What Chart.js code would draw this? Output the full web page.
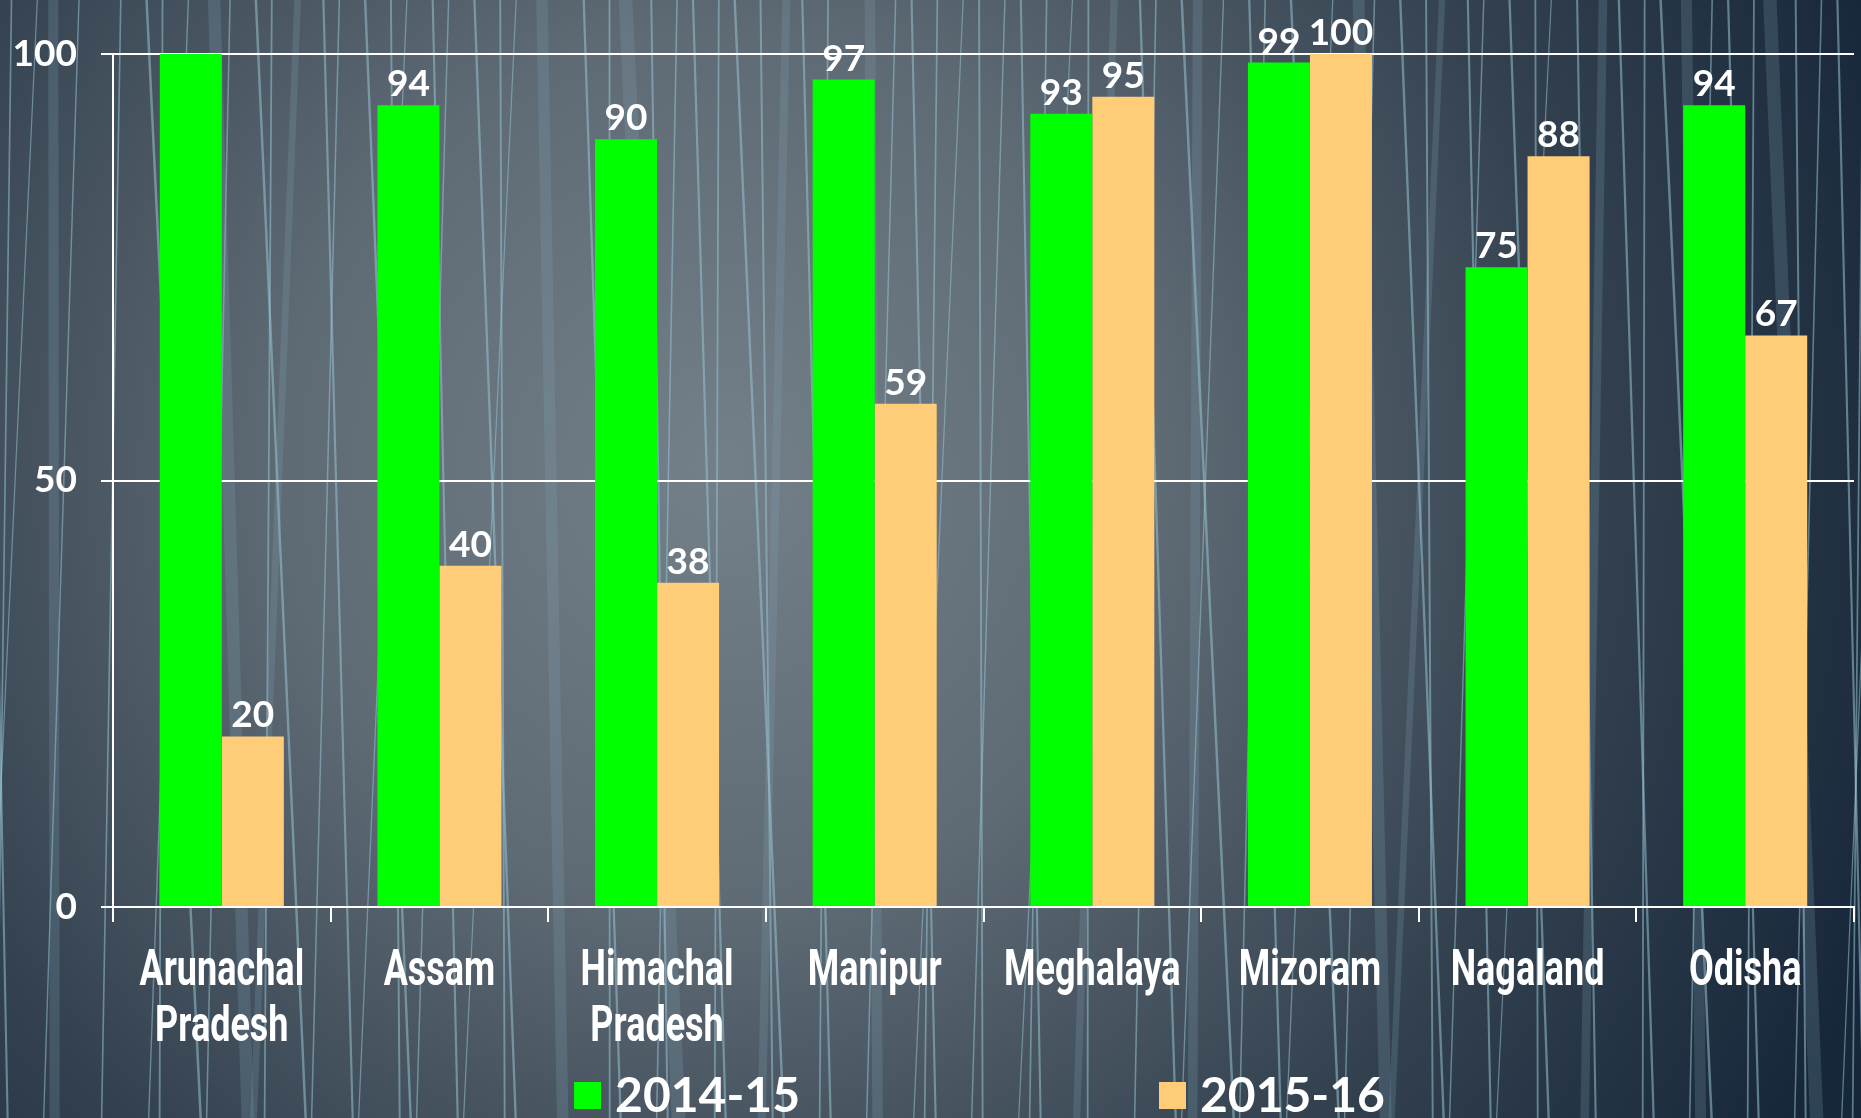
<!DOCTYPE html>
<html>
<head>
<meta charset="utf-8">
<script src="https://cdn.jsdelivr.net/npm/chart.js@4.4.1/dist/chart.umd.min.js"></script>
<style>
  html, body { margin: 0; padding: 0; background: #1c2b3a; }
  #wrap { width: 1861px; height: 1118px; position: relative; }
</style>
</head>
<body>
<div id="wrap"><canvas id="chart.area"></canvas></div>
<script>
const states = [['Arunachal', 'Pradesh'], 'Assam', ['Himachal', 'Pradesh'], 'Manipur', 'Meghalaya', 'Mizoram', 'Nagaland', 'Odisha'];
const values1415 = [100, 94, 90, 97, 93, 99, 75, 94];
const values1516 = [20, 40, 38, 59, 95, 100, 88, 67];
// the source shows no number over the first green bar
const showValue1415 = [false, true, true, true, true, true, true, true];
const showValue1516 = [true, true, true, true, true, true, true, true];
const seriesNames = ['2014-15', '2015-16'];
const seriesColors = ['#00ff00', '#ffcc77'];
const yTicks = [0, 50, 100];

const numFont = 'Lato, "Open Sans", sans-serif';
const labelFont = 'Roboto, "DejaVu Sans", sans-serif';

// background: grey-blue glow with light streaks
const backdrop = {
    id: 'backdrop',
    beforeDraw(chart) {
        const ctx = chart.ctx;
        const w = chart.width, h = chart.height;
        ctx.save();
        const g = ctx.createRadialGradient(720, 470, 0, 720, 470, 1250);
        g.addColorStop(0, '#737f89');
        g.addColorStop(0.35, '#5e6a74');
        g.addColorStop(0.7, '#33414f');
        g.addColorStop(1, '#17273a');
        ctx.fillStyle = g;
        ctx.fillRect(0, 0, w, h);

        let s = 0.31, t = 0.17;
        for (let i = 0; i < 85; i++) {
            s = (s + 0.6180339887) % 1;
            t = (t + 0.7548776662) % 1;
            const x0 = s * (w + 100) - 50;
            const x1 = x0 + (t - 0.5) * 110;
            const wide = i % 6 === 0;
            ctx.strokeStyle = wide ? 'rgba(130,170,185,0.22)' : 'rgba(150,195,210,0.55)';
            ctx.lineWidth = wide ? 6 + t * 8 : 1.2 + t * 1.3;
            ctx.beginPath();
            ctx.moveTo(x0, 0);
            ctx.lineTo(x1, h);
            ctx.stroke();
        }
        ctx.restore();
    }
};

// numbers above the bars
const barValues = {
    id: 'barValues',
    afterDatasetsDraw(chart) {
        const ctx = chart.ctx;
        ctx.save();
        ctx.fillStyle = '#ffffff';
        ctx.font = 'bold 37px ' + numFont;
        ctx.textAlign = 'center';
        ctx.textBaseline = 'alphabetic';
        chart.data.datasets.forEach((ds, i) => {
            chart.getDatasetMeta(i).data.forEach((bar, j) => {
                if (!ds.showValue[j]) return;
                ctx.fillText(String(ds.data[j]), bar.x, bar.y - 9);
            });
        });
        ctx.restore();
    }
};

// narrow category names (no condensed face installed, so squeeze a bold one)
const narrowLabels = {
    id: 'narrowLabels',
    afterDraw(chart) {
        const ctx = chart.ctx;
        const xs = chart.scales.x;
        ctx.save();
        ctx.fillStyle = '#ffffff';
        ctx.font = 'bold 50px ' + labelFont;
        ctx.textAlign = 'center';
        ctx.textBaseline = 'alphabetic';
        chart.data.labels.forEach((lab, i) => {
            const lines = Array.isArray(lab) ? lab : [lab];
            const x = xs.getPixelForTick(i);
            lines.forEach((line, k) => {
                ctx.save();
                ctx.translate(x, chart.chartArea.bottom + 78 + k * 56);
                ctx.scale(0.72, 1);
                ctx.fillText(line, 0, 0);
                ctx.restore();
            });
        });
        ctx.restore();
    }
};

// legend under the axis, centred on the plot area
const bottomLegend = {
    id: 'bottomLegend',
    afterDraw(chart) {
        const ctx = chart.ctx;
        const area = chart.chartArea;
        ctx.save();
        ctx.font = 'bold 48px ' + numFont;
        ctx.textBaseline = 'middle';
        const box = 27, gapText = 14, gapItem = 359;
        const items = chart.data.datasets.map(ds => ({
            label: ds.label, color: ds.backgroundColor,
            w: box + gapText + ctx.measureText(ds.label).width
        }));
        const total = items.reduce((a, it) => a + it.w, 0) + gapItem * (items.length - 1);
        let x = (area.left + area.right) / 2 - total / 2 - 4;
        const cy = 1095;
        items.forEach(it => {
            ctx.fillStyle = it.color;
            ctx.fillRect(x, cy - 13, box, 27);
            ctx.fillStyle = '#ffffff';
            ctx.fillText(it.label, x + box + gapText, cy + 2);
            x += it.w + gapItem;
        });
        ctx.restore();
    }
};

const config = {
    type: 'bar',
    data: {
        labels: states,
        datasets: [
            { label: seriesNames[0], data: values1415, backgroundColor: seriesColors[0], showValue: showValue1415 },
            { label: seriesNames[1], data: values1516, backgroundColor: seriesColors[1], showValue: showValue1516 }
        ]
    },
    options: {
        responsive: true,
        maintainAspectRatio: false,
        animation: false,
        layout: { padding: { top: 54, left: 12, right: 7, bottom: 52 } },
        datasets: { bar: { categoryPercentage: 0.57, barPercentage: 1.0, borderWidth: 0 } },
        plugins: {
            legend: { display: false },
            tooltip: { enabled: false }
        },
        scales: {
            x: {
                grid: { drawOnChartArea: false, color: '#ffffff', lineWidth: 2, tickLength: 15, offset: true },
                border: { color: '#ffffff', width: 2 },
                ticks: {
                    color: 'rgba(0,0,0,0)',
                    padding: 14,
                    maxRotation: 0,
                    autoSkip: false,
                    font: { family: numFont, size: 30, weight: 'bold', lineHeight: '58px' }
                }
            },
            y: {
                min: 0,
                max: 100,
                afterBuildTicks: axis => { axis.ticks = yTicks.map(v => ({ value: v })); },
                afterFit: axis => { axis.width = 101; },
                grid: { color: '#ffffff', lineWidth: 2, tickLength: 12 },
                border: { color: '#ffffff', width: 2 },
                ticks: {
                    color: '#ffffff',
                    padding: 24,
                    font: { family: numFont, size: 37, weight: 'bold' }
                }
            }
        }
    },
    plugins: [backdrop, barValues, narrowLabels, bottomLegend]
};

const chart = new Chart(document.getElementById('chart.area'), config);
</script>
</body>
</html>
